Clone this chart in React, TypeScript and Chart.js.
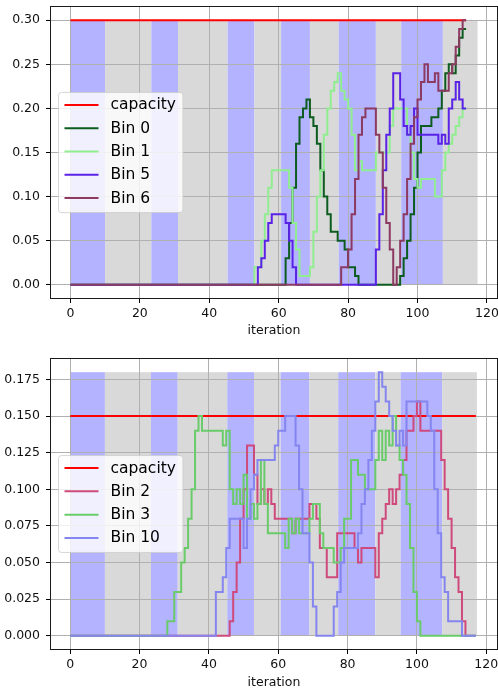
import React, { useEffect, useRef } from "react";
import { Chart, registerables } from "chart.js";

Chart.register(...registerables);

const FONT = "'DejaVu Sans', 'Liberation Sans', sans-serif";

// ---------- shared ----------
const xTicks = [0, 20, 40, 60, 80, 100, 120];
const bandEdges = [0, 10, 23.3, 31, 45.3, 53, 60.7, 69, 77.3, 88, 95.3, 107.3, 117.3];
const bandColors = ["#b3b3ff", "#d9d9d9"];

// ---------- top panel ----------
const topCapacity = 0.3;
const topYTicks = [0, 0.05, 0.1, 0.15, 0.2, 0.25, 0.3];

const bin0 = [
  0, 0, 0, 0, 0, 0, 0, 0, 0, 0,
  0, 0, 0, 0, 0, 0, 0, 0, 0, 0,
  0, 0, 0, 0, 0, 0, 0, 0, 0, 0,
  0, 0, 0, 0, 0, 0, 0, 0, 0, 0,
  0, 0, 0, 0, 0, 0, 0, 0, 0, 0,
  0, 0, 0, 0, 0, 0, 0, 0, 0, 0,
  0, 0, 0, 0.03, 0.07, 0.11, 0.16, 0.19, 0.2, 0.21,
  0.19, 0.18, 0.16, 0.13, 0.1, 0.08, 0.06, 0.06, 0.05, 0.05,
  0.04, 0.02, 0.02, 0.01, 0, 0, 0, 0, 0, 0,
  0, 0, 0, 0, 0, 0, 0.01, 0.03, 0.05, 0.08,
  0.11, 0.15, 0.18, 0.18, 0.18, 0.19, 0.19, 0.2, 0.22, 0.24,
  0.25, 0.24, 0.26, 0.28, 0.29,
];
const bin1 = [
  0, 0, 0, 0, 0, 0, 0, 0, 0, 0,
  0, 0, 0, 0, 0, 0, 0, 0, 0, 0,
  0, 0, 0, 0, 0, 0, 0, 0, 0, 0,
  0, 0, 0, 0, 0, 0, 0, 0, 0, 0,
  0, 0, 0, 0, 0, 0, 0, 0, 0, 0,
  0, 0, 0, 0, 0.02, 0.02, 0.05, 0.08, 0.11, 0.13,
  0.13, 0.13, 0.13, 0.13, 0.11, 0.07, 0.04, 0.01, 0.01, 0.01,
  0.02, 0.06, 0.1, 0.13, 0.17, 0.2, 0.22, 0.23, 0.24, 0.22,
  0.21, 0.2, 0.17, 0.13, 0.14, 0.13, 0.13, 0.13, 0.13, 0.15,
  0.15, 0.15, 0.15, 0.18, 0.2, 0.2, 0.2, 0.2, 0.17, 0.15,
  0.12, 0.11, 0.12, 0.12, 0.12, 0.12, 0.1, 0.1, 0.13, 0.15,
  0.16, 0.17, 0.18, 0.19, 0.2,
];
const bin5 = [
  0, 0, 0, 0, 0, 0, 0, 0, 0, 0,
  0, 0, 0, 0, 0, 0, 0, 0, 0, 0,
  0, 0, 0, 0, 0, 0, 0, 0, 0, 0,
  0, 0, 0, 0, 0, 0, 0, 0, 0, 0,
  0, 0, 0, 0, 0, 0, 0, 0, 0, 0,
  0, 0, 0, 0, 0, 0.02, 0.03, 0.05, 0.07, 0.08,
  0.08, 0.08, 0.08, 0.07, 0.05, 0.02, 0, 0, 0, 0,
  0, 0, 0, 0, 0, 0, 0, 0, 0, 0,
  0, 0, 0, 0, 0, 0, 0, 0, 0, 0.04,
  0.08, 0.13, 0.17, 0.2, 0.24, 0.24, 0.21, 0.18, 0.17, 0.18,
  0.2, 0.17, 0.17, 0.17, 0.17, 0.17, 0.17, 0.16, 0.17, 0.16,
  0.2, 0.21, 0.23, 0.21, 0.2,
];
const bin6 = [
  0, 0, 0, 0, 0, 0, 0, 0, 0, 0,
  0, 0, 0, 0, 0, 0, 0, 0, 0, 0,
  0, 0, 0, 0, 0, 0, 0, 0, 0, 0,
  0, 0, 0, 0, 0, 0, 0, 0, 0, 0,
  0, 0, 0, 0, 0, 0, 0, 0, 0, 0,
  0, 0, 0, 0, 0, 0, 0, 0, 0, 0,
  0, 0, 0, 0, 0, 0, 0, 0, 0, 0,
  0, 0, 0, 0, 0, 0, 0, 0, 0, 0.02,
  0.02, 0.04, 0.08, 0.12, 0.17, 0.19, 0.2, 0.2, 0.2, 0.17,
  0.15, 0.11, 0.07, 0.04, 0, 0.02, 0.05, 0.08, 0.12, 0.16,
  0.19, 0.21, 0.23, 0.25, 0.23, 0.23, 0.24, 0.22, 0.22, 0.22,
  0.24, 0.25, 0.27, 0.29, 0.3,
];

// ---------- bottom panel ----------
const bottomCapacity = 0.15;
const bottomYTicks = [0, 0.025, 0.05, 0.075, 0.1, 0.125, 0.15, 0.175];

const bin2 = [
  0, 0, 0, 0, 0, 0, 0, 0, 0, 0,
  0, 0, 0, 0, 0, 0, 0, 0, 0, 0,
  0, 0, 0, 0, 0, 0, 0, 0, 0, 0,
  0, 0, 0, 0, 0, 0, 0, 0, 0, 0,
  0, 0, 0, 0, 0, 0, 0, 0.01, 0.03, 0.05,
  0.08, 0.1, 0.13, 0.13, 0.11, 0.09, 0.1, 0.09, 0.1, 0.09,
  0.08, 0.08, 0.08, 0.08, 0.08, 0.07, 0.08, 0.08, 0.08, 0.08,
  0.09, 0.09, 0.08, 0.06, 0.06, 0.04, 0.04, 0.04, 0.07, 0.07,
  0.07, 0.07, 0.07, 0.06, 0.05, 0.06, 0.06, 0.06, 0.06, 0.04,
  0.07, 0.08, 0.09, 0.1, 0.09, 0.1, 0.11, 0.12, 0.14, 0.14,
  0.15, 0.16, 0.14, 0.14, 0.14, 0.14, 0.14, 0.14, 0.12, 0.1,
  0.08, 0.06, 0.04, 0.03, 0.01, 0, 0, 0,
];
const bin3 = [
  0, 0, 0, 0, 0, 0, 0, 0, 0, 0,
  0, 0, 0, 0, 0, 0, 0, 0, 0, 0,
  0, 0, 0, 0, 0, 0, 0, 0, 0, 0.01,
  0.01, 0.03, 0.03, 0.05, 0.06, 0.08, 0.1, 0.14, 0.15, 0.14,
  0.14, 0.14, 0.14, 0.14, 0.14, 0.13, 0.14, 0.1, 0.09, 0.1,
  0.09, 0.11, 0.08, 0.09, 0.08, 0.09, 0.12, 0.09, 0.07, 0.07,
  0.07, 0.07, 0.07, 0.06, 0.08, 0.07, 0.08, 0.07, 0.07, 0.07,
  0.08, 0.09, 0.09, 0.07, 0.06, 0.06, 0.06, 0.05, 0.05, 0.06,
  0.08, 0.08, 0.12, 0.12, 0.11, 0.11, 0.1, 0.1, 0.1, 0.12,
  0.14, 0.12, 0.14, 0.13, 0.15, 0.13, 0.12, 0.11, 0.09, 0.06,
  0.03, 0.01, 0, 0, 0, 0, 0, 0, 0, 0,
  0, 0, 0, 0, 0, 0, 0, 0,
];
const bin10 = [
  0, 0, 0, 0, 0, 0, 0, 0, 0, 0,
  0, 0, 0, 0, 0, 0, 0, 0, 0, 0,
  0, 0, 0, 0, 0, 0, 0, 0, 0, 0,
  0, 0, 0, 0, 0, 0, 0, 0, 0, 0,
  0, 0, 0, 0.03, 0.03, 0.04, 0.06, 0.08, 0.08, 0.08,
  0.08, 0.06, 0.08, 0.1, 0.11, 0.12, 0.12, 0.12, 0.12, 0.12,
  0.13, 0.14, 0.14, 0.15, 0.15, 0.15, 0.13, 0.1, 0.07, 0.07,
  0.05, 0.02, 0, 0, 0, 0, 0, 0.02, 0.03, 0.05,
  0.06, 0.06, 0.06, 0.06, 0.07, 0.09, 0.1, 0.12, 0.14, 0.16,
  0.18, 0.17, 0.16, 0.15, 0.14, 0.13, 0.14, 0.13, 0.16, 0.16,
  0.16, 0.16, 0.16, 0.16, 0.15, 0.14, 0.1, 0.07, 0.04, 0.03,
  0.01, 0.01, 0.01, 0.01, 0, 0, 0, 0,
];

type Series = { label: string; color: string; values: number[] };

const topSeries: Series[] = [
  { label: "Bin 0", color: "#0d5c1f", values: bin0 },
  { label: "Bin 1", color: "#90ee90", values: bin1 },
  { label: "Bin 5", color: "#5a22e6", values: bin5 },
  { label: "Bin 6", color: "#8c3a62", values: bin6 },
];
const bottomSeries: Series[] = [
  { label: "Bin 2", color: "#cf4a7c", values: bin2 },
  { label: "Bin 3", color: "#6acb6a", values: bin3 },
  { label: "Bin 10", color: "#8585f0", values: bin10 },
];

function makePlugin(bandTop: number) {
  return {
    id: "bandsFrameLegend",
    beforeDraw(chart: any) {
      const { ctx, chartArea, scales } = chart;
      const x = scales.x;
      const y = scales.y;
      ctx.save();
      ctx.beginPath();
      ctx.rect(chartArea.left, chartArea.top, chartArea.right - chartArea.left, chartArea.bottom - chartArea.top);
      ctx.clip();
      const y0 = y.getPixelForValue(bandTop);
      const y1 = y.getPixelForValue(0);
      for (let k = 0; k < bandEdges.length - 1; k++) {
        const x0 = x.getPixelForValue(bandEdges[k]);
        const x1 = x.getPixelForValue(bandEdges[k + 1]);
        ctx.fillStyle = bandColors[k % 2];
        ctx.fillRect(x0, y0, x1 - x0, y1 - y0);
      }
      ctx.restore();
    },
    afterDraw(chart: any) {
      const { ctx, chartArea } = chart;
      // frame
      ctx.save();
      ctx.strokeStyle = "#1a1a1a";
      ctx.lineWidth = 1;
      const l = Math.round(chartArea.left) - 0.5;
      const t = Math.round(chartArea.top) - 0.5;
      const r = Math.round(chartArea.right) + 0.5;
      const b = Math.round(chartArea.bottom) + 0.5;
      ctx.strokeRect(l, t, r - l, b - t);

      // legend
      const ds = chart.data.datasets;
      const n = ds.length;
      const rowH = 23.3;
      const h = 27 + rowH * (n - 1);
      ctx.font = `15.5px ${FONT}`;
      let maxW = 0;
      ds.forEach((d: any) => {
        maxW = Math.max(maxW, ctx.measureText(d.label).width);
      });
      const bx = chartArea.left + 7.5;
      const bw = 52 + maxW + 7;
      const by = (chartArea.top + chartArea.bottom) / 2 - h / 2;
      ctx.beginPath();
      const rr = 3;
      ctx.moveTo(bx + rr, by);
      ctx.lineTo(bx + bw - rr, by);
      ctx.arcTo(bx + bw, by, bx + bw, by + rr, rr);
      ctx.lineTo(bx + bw, by + h - rr);
      ctx.arcTo(bx + bw, by + h, bx + bw - rr, by + h, rr);
      ctx.lineTo(bx + rr, by + h);
      ctx.arcTo(bx, by + h, bx, by + h - rr, rr);
      ctx.lineTo(bx, by + rr);
      ctx.arcTo(bx, by, bx + rr, by, rr);
      ctx.closePath();
      ctx.fillStyle = "rgba(255,255,255,0.8)";
      ctx.fill();
      ctx.strokeStyle = "rgba(204,204,204,0.8)";
      ctx.lineWidth = 1;
      ctx.stroke();
      ds.forEach((d: any, k: number) => {
        const cy = by + 12.5 + rowH * k;
        ctx.beginPath();
        ctx.strokeStyle = d.borderColor;
        ctx.lineWidth = 2;
        ctx.moveTo(bx + 6, cy);
        ctx.lineTo(bx + 40, cy);
        ctx.stroke();
        ctx.fillStyle = "#000";
        ctx.textBaseline = "middle";
        ctx.textAlign = "left";
        ctx.fillText(d.label, bx + 52, cy + 0.5);
      });
      ctx.restore();
    },
  };
}

function makeConfig(p: {
  capacity: number;
  series: Series[];
  yTicks: number[];
  yMin: number;
  yMax: number;
  xMin: number;
  xMax: number;
  decimals: number;
  padding: any;
  xHeight: number;
  bandTop: number;
}) {
  const last = p.series[0].values.length - 1;
  const datasets: any[] = [
    {
      label: "capacity",
      data: [
        { x: 0, y: p.capacity },
        { x: last, y: p.capacity },
      ],
      borderColor: "#ff0000",
    },
    ...p.series.map((s) => ({
      label: s.label,
      data: s.values.map((v, i) => ({ x: i, y: v })),
      borderColor: s.color,
      stepped: "after",
    })),
  ];
  const total = datasets.length;
  datasets.forEach((d, i) => {
    d.order = total - i;
    d.borderWidth = 2;
    d.pointRadius = 0;
    d.fill = false;
  });
  const tickFont = { family: FONT, size: 12.5 };
  const grid = {
    color: "#b0b0b0",
    lineWidth: 1,
    tickColor: "#000",
    tickLength: 5,
    tickWidth: 1,
  };
  return {
    type: "line",
    data: { datasets },
    options: {
      animation: false,
      responsive: false,
      devicePixelRatio: 1,
      layout: { padding: p.padding },
      plugins: { legend: { display: false }, tooltip: { enabled: false } },
      scales: {
        x: {
          type: "linear",
          min: p.xMin,
          max: p.xMax,
          afterBuildTicks: (ax: any) => {
            ax.ticks = xTicks.map((v) => ({ value: v }));
          },
          afterFit: (ax: any) => {
            ax.height = p.xHeight;
            ax.paddingLeft = 0;
            ax.paddingRight = 0;
            ax.paddingTop = 0;
            ax.paddingBottom = 0;
          },
          ticks: {
            autoSkip: false,
            maxRotation: 0,
            padding: 3,
            color: "#111",
            font: tickFont,
            callback: (v: any) => String(v),
          },
          grid,
          border: { display: false },
          title: {
            display: true,
            text: "iteration",
            color: "#111",
            font: tickFont,
            padding: 0,
          },
        },
        y: {
          type: "linear",
          min: p.yMin,
          max: p.yMax,
          afterBuildTicks: (ax: any) => {
            ax.ticks = p.yTicks.map((v) => ({ value: v }));
          },
          afterFit: (ax: any) => {
            ax.width = 51;
            ax.paddingLeft = 0;
            ax.paddingRight = 0;
            ax.paddingTop = 0;
            ax.paddingBottom = 0;
          },
          ticks: {
            autoSkip: false,
            padding: 6,
            color: "#111",
            font: tickFont,
            callback: (v: any) => Number(v).toFixed(p.decimals),
          },
          grid,
          border: { display: false },
        },
      },
    },
    plugins: [makePlugin(p.bandTop)],
  };
}

function Panel(props: { config: any; top: number; height: number }) {
  const ref = useRef<HTMLCanvasElement | null>(null);
  useEffect(() => {
    if (!ref.current) return;
    const chart = new Chart(ref.current, props.config);
    return () => chart.destroy();
  }, []);
  return (
    <canvas
      ref={ref}
      width={498}
      height={props.height}
      style={{ position: "absolute", left: 0, top: props.top, width: 498, height: props.height }}
    />
  );
}

export default function App() {
  const topConfig = makeConfig({
    capacity: topCapacity,
    series: topSeries,
    yTicks: topYTicks,
    yMin: -0.015,
    yMax: 0.315,
    xMin: -5.6,
    xMax: 122.9,
    decimals: 2,
    padding: { left: 0, right: 1, top: 7, bottom: 2 },
    xHeight: 40,
    bandTop: 0.3,
  });
  const bottomConfig = makeConfig({
    capacity: bottomCapacity,
    series: bottomSeries,
    yTicks: bottomYTicks,
    yMin: -0.009,
    yMax: 0.189,
    xMin: -5.55,
    xMax: 123.1,
    decimals: 3,
    padding: { left: 0, right: 1, top: 19, bottom: 0 },
    xHeight: 41,
    bandTop: 0.18,
  });
  return (
    <div style={{ position: "absolute", left: 0, top: 0, width: 498, height: 690, background: "#fff" }}>
      <Panel config={topConfig} top={0} height={340} />
      <Panel config={bottomConfig} top={340} height={350} />
    </div>
  );
}
